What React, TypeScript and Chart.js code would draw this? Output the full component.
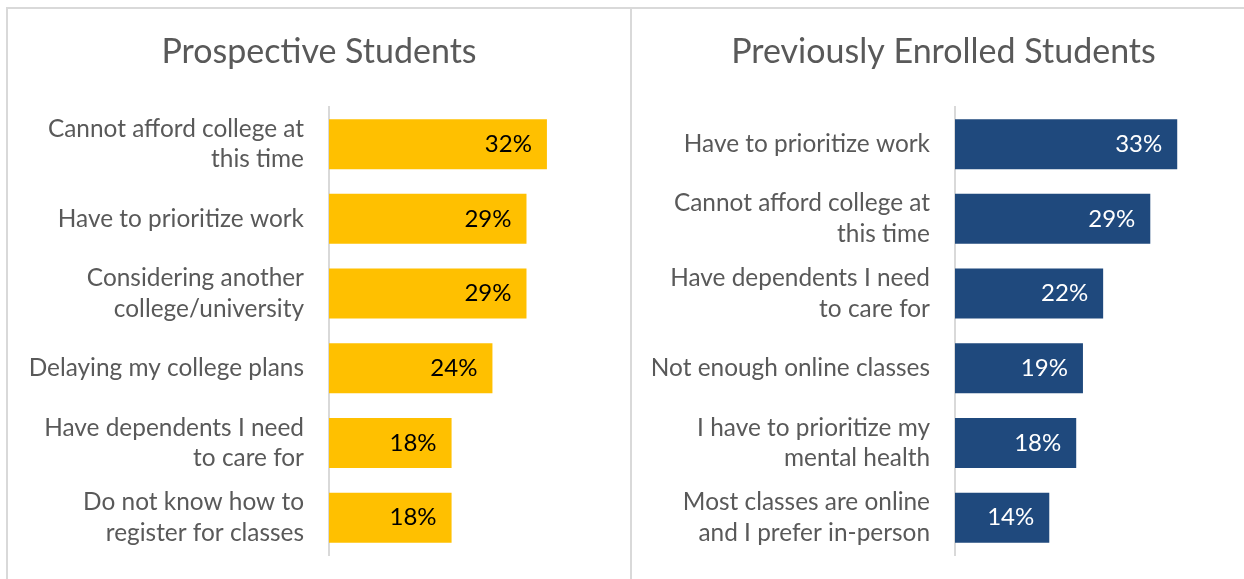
import React, { useEffect, useRef } from "react";
import { Chart, registerables } from "chart.js";

Chart.register(...registerables);

const FONT = "Lato, 'Open Sans', sans-serif";

const prospectiveTitle = "Prospective Students";
const prospectiveLabels: (string | string[])[] = [
  ["Cannot afford college at", "this time"],
  "Have to prioritize work",
  ["Considering another", "college/university"],
  "Delaying my college plans",
  ["Have dependents I need", "to care for"],
  ["Do not know how to", "register for classes"],
];
const prospectiveValues = [32, 29, 29, 24, 18, 18];

const enrolledTitle = "Previously Enrolled Students";
const enrolledLabels: (string | string[])[] = [
  "Have to prioritize work",
  ["Cannot afford college at", "this time"],
  ["Have dependents I need", "to care for"],
  "Not enough online classes",
  ["I have to prioritize my", "mental health"],
  ["Most classes are online", "and I prefer in-person"],
];
const enrolledValues = [33, 29, 22, 19, 18, 14];

const valueLabelPlugin = {
  id: "valueLabels",
  afterDatasetsDraw(chart: any, _args: any, opts: any) {
    const ctx = chart.ctx;
    const meta = chart.getDatasetMeta(0);
    const data = chart.data.datasets[0].data;
    ctx.save();
    ctx.font = `${opts.size}px ${FONT}`;
    ctx.fillStyle = opts.color;
    ctx.textAlign = "right";
    ctx.textBaseline = "middle";
    meta.data.forEach((bar: any, i: number) => {
      ctx.fillText(`${data[i]}%`, bar.x - opts.offset, bar.y);
    });
    ctx.restore();
  },
};

type PanelProps = {
  title: string;
  labels: (string | string[])[];
  values: number[];
  color: string;
  valueColor: string;
  left: number;
  width: number;
  axisWidth: number;
  xMax: number;
};

function Panel(p: PanelProps) {
  const ref = useRef<HTMLCanvasElement>(null);
  useEffect(() => {
    if (!ref.current) return;
    const chart = new Chart(ref.current, {
      type: "bar",
      data: {
        labels: p.labels as any,
        datasets: [
          {
            data: p.values,
            backgroundColor: p.color,
            barPercentage: 0.67,
            categoryPercentage: 1,
          },
        ],
      },
      options: {
        indexAxis: "y",
        animation: false,
        responsive: false,
        maintainAspectRatio: false,
        layout: { padding: { top: 0, bottom: 24, left: 0, right: 0 } },
        plugins: {
          legend: { display: false },
          tooltip: { enabled: false },
          title: {
            display: true,
            text: p.title,
            color: "#595959",
            font: { family: FONT, size: 34, weight: "normal", lineHeight: 1.2 },
            padding: { top: 23, bottom: 34 },
          },
          valueLabels: { color: p.valueColor, size: 24, offset: 15 },
        } as any,
        scales: {
          x: { display: false, min: 0, max: p.xMax },
          y: {
            grid: { display: false, drawTicks: false },
            border: { display: true, color: "#d9d9d9", width: 2 },
            ticks: {
              color: "#595959",
              font: { family: FONT, size: 24.4, lineHeight: 1.25 },
              padding: 25,
            },
            afterFit: (s: any) => {
              s.width = p.axisWidth;
              s.paddingTop = 0;
              s.paddingBottom = 0;
            },
          },
        },
      },
      plugins: [valueLabelPlugin as any],
    });
    return () => chart.destroy();
  }, []);
  return (
    <canvas
      ref={ref}
      width={p.width}
      height={570}
      style={{ position: "absolute", left: p.left, top: 9, width: p.width, height: 570, display: "block" }}
    />
  );
}

export default function App() {
  const line = "#d9d9d9";
  return (
    <div
      style={{
        position: "fixed",
        left: 0,
        top: 0,
        width: 1244,
        height: 579,
        overflow: "hidden",
        background: "#ffffff",
      }}
    >
      <div style={{ position: "absolute", left: 6, top: 7, width: 1240, height: 2, background: line }} />
      <div style={{ position: "absolute", left: 6, top: 7, width: 2, height: 580, background: line }} />
      <div style={{ position: "absolute", left: 630, top: 7, width: 2, height: 580, background: line }} />
      <Panel
        title={prospectiveTitle}
        labels={prospectiveLabels}
        values={prospectiveValues}
        color="#FFC000"
        valueColor="#000000"
        left={8}
        width={622}
        axisWidth={321}
        xMax={44.2}
      />
      <Panel
        title={enrolledTitle}
        labels={enrolledLabels}
        values={enrolledValues}
        color="#1F497D"
        valueColor="#ffffff"
        left={633}
        width={621}
        axisWidth={322}
        xMax={44.4}
      />
    </div>
  );
}
